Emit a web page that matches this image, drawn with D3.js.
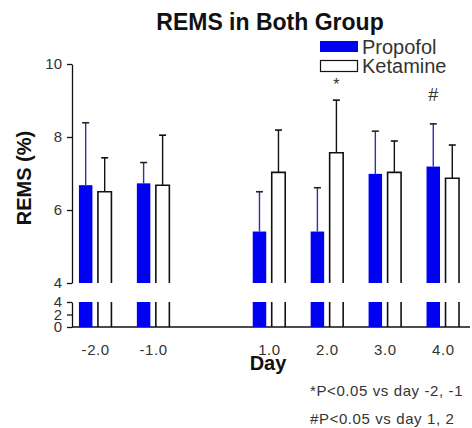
<!DOCTYPE html>
<html>
<head>
<meta charset="utf-8">
<script src="https://cdn.jsdelivr.net/npm/d3@7"></script>
<style>
  html, body { margin: 0; padding: 0; background: #fff; }
  svg { display: block; font-family: Arial, "Liberation Sans", sans-serif; }
</style>
</head>
<body>
<svg id="chart" width="472" height="428"></svg>
<script>
// ---- data ----
const days = [-2, -1, 1, 2, 3, 4];
const propofolMean = [6.68, 6.73, 5.41, 5.41, 6.99, 7.19];
const propofolErr  = [1.71, 0.57, 1.09, 1.20, 1.17, 1.17];
const ketamineMean = [6.50, 6.68, 7.03, 7.57, 7.03, 6.87];
const ketamineErr  = [0.93, 1.37, 1.16, 1.44, 0.86, 0.91];
const upperTicks = [4, 6, 8, 10];
const lowerTicks = [0, 2, 4];
const seriesNames = ["Propofol", "Ketamine"];
const notes = ["*P<0.05 vs day -2, -1", "#P<0.05 vs day 1, 2"];

const svg = d3.select("#chart");
const blue = "#0000f2";

const x = d3.scaleLinear().domain([-2.4, 4.47]).range([72, 470]);
const yU = d3.scaleLinear().domain([4, 10]).range([283, 64]);
const yL = d3.scaleLinear().domain([0, 4]).range([327, 302]);
const off = 9.5, bw = 13.5;
const hy = f => d => f(d).replace("\u2212", "-");

// Title
svg.append("text").attr("x", 270).attr("y", 30).attr("text-anchor", "middle")
  .attr("font-size", 23).attr("font-weight", "bold").attr("fill", "#111")
  .text("REMS in Both Group");

// Axes
function styleAxis(g) {
  g.selectAll("path").attr("stroke", "#111").attr("stroke-width", 1.3);
  g.selectAll("line").attr("stroke", "#111").attr("stroke-width", 1.3);
  g.selectAll("text").attr("font-size", 15).attr("fill", "#333").attr("font-family", "Arial, 'Liberation Sans', sans-serif");
}
svg.append("g").attr("transform", "translate(72,0)")
  .call(d3.axisLeft(yU).tickValues(upperTicks).tickFormat(d3.format("d")).tickSize(5).tickSizeOuter(0).tickPadding(5))
  .call(styleAxis);
svg.append("g").attr("transform", "translate(72,0)")
  .call(d3.axisLeft(yL).tickValues(lowerTicks).tickFormat(d3.format("d")).tickSize(5).tickSizeOuter(0).tickPadding(5))
  .call(styleAxis);
const xg = svg.append("g").attr("transform", "translate(0,327)")
  .call(d3.axisBottom(x).tickValues(days).tickFormat(hy(d3.format(".1f"))).tickSize(0).tickPadding(17))
  .call(styleAxis);
xg.select("path").remove();
xg.selectAll("text").attr("letter-spacing", 0.6);
svg.append("line").attr("x1", 72).attr("x2", 470).attr("y1", 327).attr("y2", 327)
  .attr("stroke", "#111").attr("stroke-width", 1.3);

// Bars
function drawPanel(y, lo, clipTop) {
  days.forEach((d, i) => {
    const cx = x(d);
    const pTop = Math.max(y(Math.min(propofolMean[i], y.domain()[1])), clipTop);
    svg.append("rect").attr("x", cx - off - bw / 2).attr("width", bw)
      .attr("y", pTop).attr("height", y(lo) - pTop).attr("fill", blue);
    const kTop = Math.max(y(Math.min(ketamineMean[i], y.domain()[1])), clipTop);
    const kx0 = cx + off - bw / 2, kx1 = cx + off + bw / 2;
    const isUpper = ketamineMean[i] <= y.domain()[1];
    let p = `M${kx0},${y(lo)}V${kTop}`;
    p += isUpper ? `H${kx1}` : `M${kx1},${kTop}`;
    p += `V${y(lo)}`;
    svg.append("path").attr("d", p).attr("fill", "none").attr("stroke", "#111").attr("stroke-width", 1.6);
  });
}
drawPanel(yU, 4, 64);
drawPanel(yL, 0, 302);

// Error bars (upper panel)
days.forEach((d, i) => {
  const cx = x(d);
  const px = cx - off, kx = cx + off;
  const pt = yU(propofolMean[i] + propofolErr[i]);
  svg.append("line").attr("x1", px).attr("x2", px).attr("y1", yU(propofolMean[i])).attr("y2", pt)
    .attr("stroke", "#3030a8").attr("stroke-width", 1.4);
  svg.append("line").attr("x1", px - 3.5).attr("x2", px + 3.5).attr("y1", pt).attr("y2", pt)
    .attr("stroke", "#222").attr("stroke-width", 1.6);
  const kt = yU(ketamineMean[i] + ketamineErr[i]);
  svg.append("line").attr("x1", kx).attr("x2", kx).attr("y1", yU(ketamineMean[i])).attr("y2", kt)
    .attr("stroke", "#111").attr("stroke-width", 1.4);
  svg.append("line").attr("x1", kx - 3.5).attr("x2", kx + 3.5).attr("y1", kt).attr("y2", kt)
    .attr("stroke", "#111").attr("stroke-width", 1.6);
});

// Significance markers
svg.append("text").attr("x", x(2) + off).attr("y", 90).attr("text-anchor", "middle")
  .attr("font-size", 16).attr("fill", "#333").text("*");
svg.append("text").attr("x", x(4) - off).attr("y", 101).attr("text-anchor", "middle")
  .attr("font-size", 18).attr("fill", "#333").text("#");

// Axis titles
svg.append("text").attr("transform", "translate(31,178) rotate(-90)").attr("text-anchor", "middle")
  .attr("font-size", 20).attr("font-weight", "bold").attr("fill", "#111").text("REMS (%)");
svg.append("text").attr("x", 268).attr("y", 370).attr("text-anchor", "middle")
  .attr("font-size", 20).attr("font-weight", "bold").attr("fill", "#111").text("Day");

// Legend
svg.append("rect").attr("x", 320).attr("y", 41).attr("width", 38).attr("height", 11).attr("fill", blue);
svg.append("rect").attr("x", 320.5).attr("y", 60.5).attr("width", 37).attr("height", 11)
  .attr("fill", "#fff").attr("stroke", "#111").attr("stroke-width", 1.2);
svg.append("text").attr("x", 362).attr("y", 54).attr("font-size", 20).attr("fill", "#333").text(seriesNames[0]);
svg.append("text").attr("x", 362).attr("y", 73).attr("font-size", 20).attr("fill", "#333").text(seriesNames[1]);

// Footnotes
svg.append("text").attr("x", 310).attr("y", 396).attr("font-size", 15).attr("letter-spacing", 0.6).attr("fill", "#333").text(notes[0]);
svg.append("text").attr("x", 310).attr("y", 424).attr("font-size", 15).attr("letter-spacing", 0.6).attr("fill", "#333").text(notes[1]);
</script>
</body>
</html>
